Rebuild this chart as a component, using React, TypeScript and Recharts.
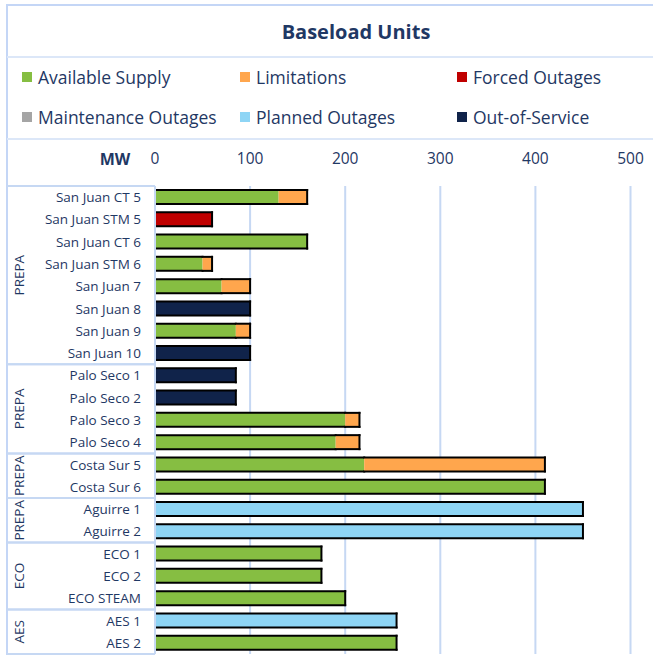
import React from 'react';
import { BarChart, Bar, XAxis, YAxis, CartesianGrid } from 'recharts';

const units = [
  'San Juan CT 5', 'San Juan STM 5', 'San Juan CT 6', 'San Juan STM 6', 'San Juan 7', 'San Juan 8',
  'San Juan 9', 'San Juan 10', 'Palo Seco 1', 'Palo Seco 2', 'Palo Seco 3', 'Palo Seco 4',
  'Costa Sur 5', 'Costa Sur 6', 'Aguirre 1', 'Aguirre 2', 'ECO 1', 'ECO 2', 'ECO STEAM', 'AES 1', 'AES 2',
];
const groupLabels = ['PREPA', 'PREPA', 'PREPA', 'PREPA', 'ECO', 'AES'];
const groupSizes = [8, 4, 2, 2, 3, 2];

const available = [130, 0, 160, 50, 70, 0, 85, 0, 0, 0, 200, 190, 220, 410, 0, 0, 175, 175, 200, 0, 254];
const limitations = [30, 0, 0, 10, 30, 0, 15, 0, 0, 0, 15, 25, 190, 0, 0, 0, 0, 0, 0, 0, 0];
const forced = [0, 60, 0, 0, 0, 0, 0, 0, 0, 0, 0, 0, 0, 0, 0, 0, 0, 0, 0, 0, 0];
const maintenance = [0, 0, 0, 0, 0, 0, 0, 0, 0, 0, 0, 0, 0, 0, 0, 0, 0, 0, 0, 0, 0];
const planned = [0, 0, 0, 0, 0, 0, 0, 0, 0, 0, 0, 0, 0, 0, 450, 450, 0, 0, 0, 254, 0];
const outOfService = [0, 0, 0, 0, 0, 100, 0, 100, 85, 85, 0, 0, 0, 0, 0, 0, 0, 0, 0, 0, 0];

const xTicks = [0, 100, 200, 300, 400, 500];

const seriesKeys = ['available', 'limitations', 'forced', 'maintenance', 'planned', 'oos'];
const seriesNames = ['Available Supply', 'Limitations', 'Forced Outages', 'Maintenance Outages', 'Planned Outages', 'Out-of-Service'];
const seriesColors = ['#86BE42', '#FFA64D', '#C00000', '#A5A5A5', '#8ED5F5', '#10234A'];

const data = units.map((name, i) => ({
  name,
  available: available[i],
  limitations: limitations[i],
  forced: forced[i],
  maintenance: maintenance[i],
  planned: planned[i],
  oos: outOfService[i],
}));

const NAVY = '#1F3864';
const LINE = '#C6D8F3';
const FRAME = '#C4D6F6';
const FONT = '"Open Sans", sans-serif';

const W = 653;
const H = 655;
const PLOT_TOP = 186;
const PLOT_BOTTOM = 654;
const BAND = (PLOT_BOTTOM - PLOT_TOP) / units.length;
const TABLE_LEFT = 7;
const TABLE_RIGHT = 155;

const rowGroup: number[] = [];
groupSizes.forEach((s, g) => {
  for (let k = 0; k < s; k++) rowGroup.push(g);
});
const groupStart: number[] = [];
{
  let acc = 0;
  groupSizes.forEach((s) => {
    groupStart.push(acc);
    acc += s;
  });
}

const makeShape = (idx: number) => (props: any) => {
  const { x, y, width, height, fill, payload } = props;
  if (!width || width <= 0.01 || !height) return <g />;
  const vals = seriesKeys.map((k) => (payload ? payload[k] : 0) || 0);
  const hasBefore = vals.slice(0, idx).some((v) => v > 0);
  const hasAfter = vals.slice(idx + 1).some((v) => v > 0);
  const sw = 2;
  const x2 = x + width;
  const y2 = y + height;
  return (
    <g>
      <rect x={x} y={y} width={width} height={height} fill={fill} />
      <line x1={x} y1={y} x2={x2} y2={y} stroke="#000" strokeWidth={sw} strokeLinecap="square" />
      <line x1={x} y1={y2} x2={x2} y2={y2} stroke="#000" strokeWidth={sw} strokeLinecap="square" />
      {!hasBefore && <line x1={x} y1={y} x2={x} y2={y2} stroke="#000" strokeWidth={sw} strokeLinecap="square" />}
      {!hasAfter && <line x1={x2} y1={y} x2={x2} y2={y2} stroke="#000" strokeWidth={sw} strokeLinecap="square" />}
    </g>
  );
};

const YTick = (props: any) => {
  const { y, payload } = props;
  const i = units.indexOf(payload.value);
  const g = rowGroup[i];
  const isFirst = groupStart[g] === i;
  const isLast = groupStart[g] + groupSizes[g] - 1 === i;
  const top = y - BAND / 2;
  const bottom = y + BAND / 2;
  const groupCenter = top + (groupSizes[g] * BAND) / 2;
  return (
    <g>
      <text x={141} y={y} textAnchor="end" dominantBaseline="central" fontSize={13.5} fill={NAVY} fontFamily={FONT}>
        {payload.value}
      </text>
      {isFirst && (
        <line x1={TABLE_LEFT} x2={TABLE_RIGHT} y1={top} y2={top} stroke={LINE} strokeWidth={2} />
      )}
      {isLast && (
        <line x1={TABLE_LEFT} x2={TABLE_RIGHT} y1={bottom} y2={bottom} stroke={LINE} strokeWidth={2} />
      )}
      {isFirst && (
        <text
          x={19}
          y={groupCenter}
          transform={`rotate(-90 19 ${groupCenter})`}
          textAnchor="middle"
          dominantBaseline="central"
          fontSize={13.5}
          fill={NAVY}
          fontFamily={FONT}
        >
          {groupLabels[g]}
        </text>
      )}
    </g>
  );
};

const XTick = (props: any) => {
  const { x, payload } = props;
  return (
    <text x={x} y={164} textAnchor="middle" fontSize={15.5} fill={NAVY} fontFamily={FONT}>
      {payload.value}
    </text>
  );
};

export default function App() {
  return (
    <div style={{ position: 'absolute', left: 0, top: 0, width: W, height: H, overflow: 'hidden', background: '#fff', fontFamily: FONT }}>
      <div style={{ position: 'absolute', left: 6, top: 4, width: 720, height: 720, border: `2px solid ${FRAME}` }} />
      <div style={{ position: 'absolute', left: 256, top: 18, width: 200, textAlign: 'center', fontSize: 20, fontWeight: 700, color: NAVY, lineHeight: '28px' }}>
        Baseload Units
      </div>
      <div style={{ position: 'absolute', left: 7, top: 56, width: 700, height: 80, borderTop: `2px solid #DCE7F8`, borderBottom: `2px solid #DCE7F8` }} />
      {seriesNames.map((n, i) => {
        const col = i % 3;
        const row = Math.floor(i / 3);
        const left = [22, 240, 457][col];
        const cy = [77, 117][row];
        return (
          <div key={n} style={{ position: 'absolute', left, top: cy - 12, height: 24, display: 'flex', alignItems: 'center', whiteSpace: 'nowrap' }}>
            <div style={{ width: 10, height: 10, background: seriesColors[i], marginRight: 6 }} />
            <span style={{ fontSize: 17.5, color: NAVY, lineHeight: '24px' }}>{n}</span>
          </div>
        );
      })}
      <div style={{ position: 'absolute', left: 90, top: 147, width: 50, textAlign: 'center', fontSize: 16, fontWeight: 700, color: NAVY, lineHeight: '24px' }}>
        MW
      </div>
      <div style={{ position: 'absolute', left: 0, top: 0 }}>
        <BarChart
          width={W}
          height={H}
          data={data}
          layout="vertical"
          margin={{ top: 0, right: W - 630.5, bottom: H - PLOT_BOTTOM, left: TABLE_LEFT }}
          barSize={14}
        >
          <CartesianGrid horizontal={false} vertical={true} stroke={LINE} strokeWidth={2} />
          <XAxis
            type="number"
            orientation="top"
            domain={[0, 500]}
            ticks={xTicks}
            height={PLOT_TOP}
            axisLine={false}
            tickLine={false}
            tick={<XTick />}
            interval={0}
          />
          <YAxis
            type="category"
            dataKey="name"
            width={TABLE_RIGHT - TABLE_LEFT}
            axisLine={{ stroke: LINE, strokeWidth: 2 }}
            tickLine={false}
            tick={<YTick />}
            interval={0}
          />
          {seriesKeys.map((k, i) => (
            <Bar
              key={k}
              dataKey={k}
              name={seriesNames[i]}
              stackId="a"
              fill={seriesColors[i]}
              isAnimationActive={false}
              shape={makeShape(i)}
            />
          ))}
        </BarChart>
      </div>
    </div>
  );
}
